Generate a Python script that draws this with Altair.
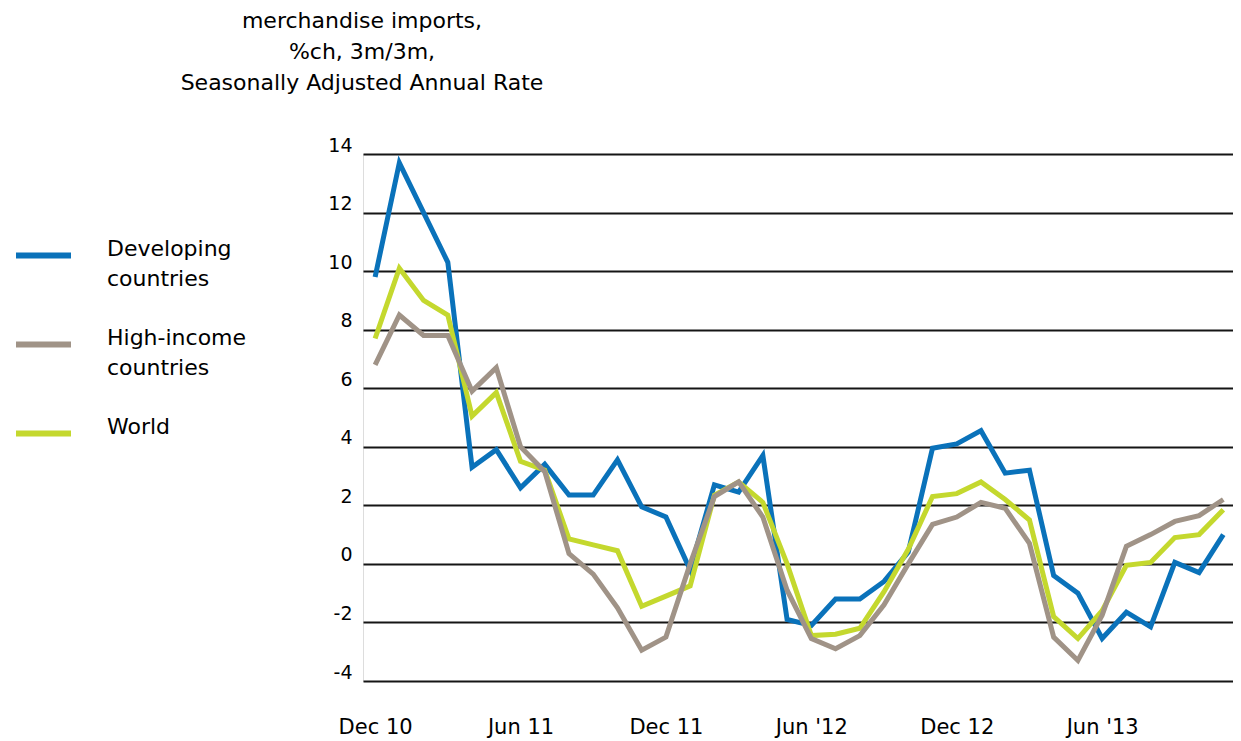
import json
import altair as alt
import pandas as pd

# ---- data ----
months = [
    "Dec 10", "Jan 11", "Feb 11", "Mar 11", "Apr 11", "May 11", "Jun 11", "Jul 11", "Aug 11",
    "Sep 11", "Oct 11", "Nov 11", "Dec 11", "Jan 12", "Feb 12", "Mar 12", "Apr 12", "May 12",
    "Jun 12", "Jul 12", "Aug 12", "Sep 12", "Oct 12", "Nov 12", "Dec 12", "Jan 13", "Feb 13",
    "Mar 13", "Apr 13", "May 13", "Jun 13", "Jul 13", "Aug 13", "Sep 13", "Oct 13", "Nov 13",
]

developing = [
    9.8, 13.7, 12.0, 10.3, 3.3, 3.9, 2.6, 3.4, 2.35,
    2.35, 3.55, 1.95, 1.6, -0.2, 2.7, 2.45, 3.7, -1.9,
    -2.1, -1.2, -1.2, -0.6, 0.4, 3.95, 4.1, 4.55, 3.1,
    3.2, -0.4, -1.0, -2.55, -1.65, -2.15, 0.05, -0.3, 1.0,
]
high_income = [
    6.8, 8.5, 7.8, 7.8, 5.9, 6.7, 4.0, 3.15, 0.35,
    -0.35, -1.5, -2.95, -2.5, 0.0, 2.3, 2.8, 1.6, -0.9,
    -2.55, -2.9, -2.45, -1.4, 0.0, 1.35, 1.6, 2.1, 1.9,
    0.7, -2.5, -3.3, -1.75, 0.6, 1.0, 1.45, 1.65, 2.2,
]
world = [
    7.7, 10.1, 9.0, 8.5, 5.05, 5.85, 3.5, 3.2, 0.85,
    0.65, 0.45, -1.45, -1.1, -0.75, 2.35, 2.8, 2.1, 0.0,
    -2.45, -2.4, -2.2, -0.95, 0.5, 2.3, 2.4, 2.8, 2.2,
    1.5, -1.8, -2.55, -1.6, -0.05, 0.05, 0.9, 1.0, 1.85,
]

series_names = ["Developing countries", "High-income countries", "World"]
series_colors = ["#0a72ba", "#a09387", "#c4d82e"]
draw_order = ["Developing countries", "World", "High-income countries"]

tick_months = ["Dec 10", "Jun 11", "Dec 11", "Jun 12", "Dec 12", "Jun 13"]
tick_labels = ["Dec 10", "Jun 11", "Dec 11", "Jun '12", "Dec 12", "Jun '13"]
y_ticks = [-4, -2, 0, 2, 4, 6, 8, 10, 12, 14]

title_lines = ["merchandise imports,", "%ch, 3m/3m,", "Seasonally Adjusted Annual Rate"]

# ---- table ----
rows = []
for name, vals in zip(series_names, [developing, high_income, world]):
    for i, (m, v) in enumerate(zip(months, vals)):
        rows.append({"month": m, "idx": i, "value": v, "series": name})
df = pd.DataFrame(rows)

tick_idx = [months.index(m) for m in tick_months]
label_map = {str(i): lab for i, lab in zip(tick_idx, tick_labels)}
x_label_expr = json.dumps(label_map) + "[''+datum.value]"

FONT = "DejaVu Sans"

legend = alt.Legend(
    title=None, orient="none", legendX=-350, legendY=71, direction="vertical",
    symbolType="stroke", symbolSize=3025, symbolStrokeWidth=6, symbolOpacity=1,
    labelFont=FONT, labelFontSize=22, labelColor="black", labelOffset=33,
    labelExpr="split(datum.label, ' ')", labelBaseline="alphabetic",
    labelLimit=400, rowPadding=24, padding=0, offset=0,
)

x_enc = alt.X(
    "idx:Q",
    scale=alt.Scale(domain=[-0.5, 35.4], nice=False, zero=False),
    axis=alt.Axis(
        values=tick_idx, labelExpr=x_label_expr, grid=False, ticks=False, domain=False,
        labelPadding=52, labelBaseline="alphabetic", labelFont=FONT, labelFontSize=21,
        labelColor="black", labelFlush=False, labelOverlap=False, title=None,
    ),
)
y_enc = alt.Y(
    "value:Q",
    scale=alt.Scale(domain=[-4, 14], nice=False, zero=False),
    axis=alt.Axis(
        values=y_ticks, labelExpr="'' + datum.value", grid=True, gridColor="#151515",
        gridWidth=2, ticks=False, domain=False, labelPadding=11, labelFont=FONT,
        labelFontSize=19, labelColor="black", labelBaseline="alphabetic", labelOffset=-3,
        labelFlush=False, labelOverlap=False, title=None,
    ),
)
color_enc = alt.Color(
    "series:N",
    scale=alt.Scale(domain=series_names, range=series_colors),
    legend=legend,
)

base = alt.Chart(df)
layers = [
    base.transform_filter(alt.datum.series == s)
    .mark_line(strokeWidth=5, strokeJoin="miter", strokeCap="butt")
    .encode(x=x_enc, y=y_enc, color=color_enc)
    for s in draw_order
]

chart = (
    alt.layer(*layers)
    .properties(
        width=870,
        height=527,
        autosize=alt.AutoSizeParams(type="none"),
        padding={"left": 355, "top": 146, "right": 0, "bottom": 60},
        title=alt.TitleParams(
            text=title_lines, anchor="start", align="center", frame="group", dx=-1,
            font=FONT, fontSize=22, fontWeight="normal", color="black",
            lineHeight=31, offset=41,
        ),
        background="white",
    )
    .configure_view(stroke=None)
    .configure(style={"guide-label": {"lineHeight": 30}})
)

chart.save("out.html", embed_options={"renderer": "svg", "actions": False})
